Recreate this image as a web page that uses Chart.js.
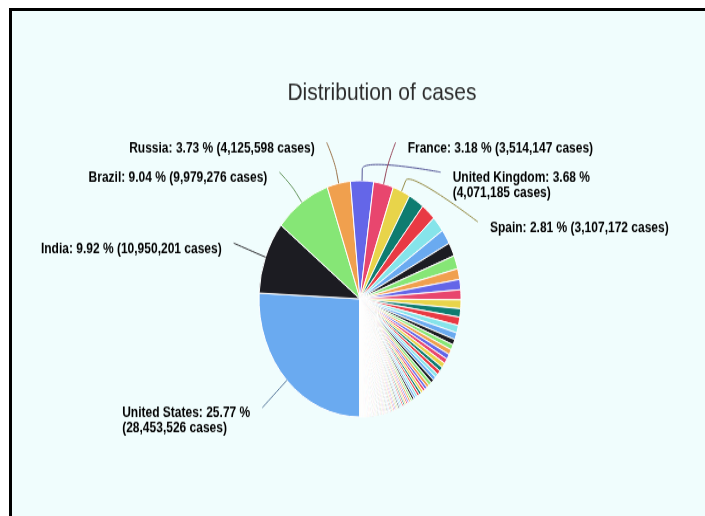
<!DOCTYPE html>
<html>
<head>
<meta charset="utf-8">
<title>Distribution of cases</title>
<script src="https://cdn.jsdelivr.net/npm/chart.js@4.4.1/dist/chart.umd.min.js"></script>
<style>
    html, body { margin: 0; padding: 0; background: #fff; }
    body { width: 705px; height: 516px; overflow: hidden; position: relative; }
    .frame {
        position: absolute; left: 9px; top: 8px;
        width: 693px; height: 505px;
        border-top: 3px solid #000; border-left: 3px solid #000;
        background: #f0fdfd;
        overflow: hidden;
    }
    /* the reference screenshot is stretched vertically */
    .stretch {
        position: absolute; left: 0; top: 0;
        width: 693px; height: 432px;
        transform: scaleY(1.17); transform-origin: 0 0;
    }
</style>
</head>
<body>
<div class="frame">
    <div class="stretch"><canvas id="casesChart"></canvas></div>
</div>
<script>
// Countries, largest first
const countries = [
    'United States', 'India', 'Brazil', 'Russia', 'United Kingdom', 'France', 'Spain',
    'Italy', 'Turkey', 'Germany', 'Colombia', 'Argentina', 'Mexico', 'Poland', 'Iran',
    'South Africa', 'Ukraine', 'Peru', 'Indonesia', 'Czechia', 'Netherlands', 'Canada',
    'Chile', 'Portugal', 'Romania', 'Belgium', 'Israel', 'Iraq', 'Sweden', 'Pakistan',
    'Philippines', 'Switzerland', 'Bangladesh', 'Morocco', 'Austria', 'Serbia', 'Japan',
    'Hungary', 'Saudi Arabia', 'Jordan', 'United Arab Emirates', 'Lebanon', 'Panama',
    'Slovakia', 'Malaysia', 'Belarus', 'Nepal', 'Ecuador', 'Georgia', 'Kazakhstan',
    'Croatia', 'Bolivia', 'Dominican Republic', 'Azerbaijan', 'Bulgaria', 'Tunisia',
    'Ireland', 'Denmark', 'Costa Rica', 'Lithuania', 'Palestine', 'Kuwait', 'Slovenia',
    'Greece', 'Egypt', 'Moldova', 'Armenia', 'Guatemala', 'Honduras', 'Qatar', 'Ethiopia',
    'Paraguay', 'Nigeria', 'Myanmar', 'Oman', 'Venezuela', 'Libya', 'Bosnia and Herzegovina',
    'Algeria', 'Bahrain', 'Kenya', 'North Macedonia', 'Albania', 'China', 'South Korea',
    'Kyrgyzstan', 'Latvia', 'Uzbekistan', 'Ghana', 'Sri Lanka', 'Zambia', 'Montenegro',
    'Norway', 'Singapore', 'El Salvador', 'Afghanistan', 'Mozambique', 'Luxembourg',
    'Finland', 'Estonia', 'Uruguay', 'Uganda', 'Cuba', 'Namibia', 'Zimbabwe', 'Cyprus',
    'Cameroon', 'Senegal', "Côte d'Ivoire", 'Malawi', 'Australia', 'Sudan', 'Botswana',
    'DR Congo', 'Malta', 'Angola', 'Madagascar'
];

// Confirmed cases per country
const cases = [
    28453526, 10950201, 9979276, 4125598, 4071185, 3514147, 3107172,
    2765000, 2610000, 2380000, 2215000, 2046000, 2030000, 1620000, 1560000,
    1500000, 1330000, 1270000, 1260000, 1130000, 1050000, 840000,
    800000, 795000, 775000, 750000, 745000, 660000, 620000, 575000,
    560000, 550000, 542000, 480000, 440000, 430000, 420000,
    400000, 375000, 370000, 360000, 350000, 340000,
    320000, 280000, 280000, 273000, 270000, 265000, 260000,
    240000, 240000, 235000, 232000, 230000, 225000,
    210000, 205000, 202000, 192000, 180000, 180000, 180000,
    180000, 178000, 170000, 170000, 170000, 160000, 155000, 150000,
    150000, 150000, 141000, 140000, 135000, 130000, 130000,
    111000, 110000, 104000, 100000, 97000, 90000, 86000,
    86000, 80000, 79000, 78000, 77000, 74000, 70000,
    66000, 60000, 58000, 55000, 55000, 53000,
    53000, 50000, 50000, 40000, 40000, 38000, 35000, 33000,
    32000, 32000, 31000, 31000, 29000, 28000, 27000,
    25000, 20000, 20000, 19000
];

// Slice colours, repeated in order
const palette = ['#6aaaf0', '#1c1c22', '#86e676', '#f0a04e', '#6466e8',
                 '#e8466e', '#e8d44a', '#0e7c70', '#e83a44', '#86e4ea'];

const titleText = 'Distribution of cases';
const labelMinPercent = 2.75;
const labelMaxWidth = 220;

const total = cases.reduce((a, b) => a + b, 0);
const percentOf = v => (Math.floor(v / total * 10000) / 100).toFixed(2);

function darken(hex) {
    const n = parseInt(hex.slice(1), 16);
    const mix = c => Math.round(c * 0.5 + 0x44 * 0.5);
    return `rgb(${mix(n >> 16)}, ${mix((n >> 8) & 255)}, ${mix(n & 255)})`;
}

// Highcharts-like data labels with connectors
const pieLabels = {
    id: 'pieLabels',
    afterDraw(chart) {
        const ctx = chart.ctx;
        const arcs = chart.getDatasetMeta(0).data;
        const distance = 34, lineH = 13, pad = 12.5, gap = 12, hook = 9.25;
        ctx.save();

        // title
        ctx.font = '21px "Liberation Sans", Arial, sans-serif';
        ctx.fillStyle = '#2b2b2b';
        ctx.textAlign = 'center';
        ctx.textBaseline = 'middle';
        ctx.fillText(titleText, 370, 70);

        ctx.font = 'bold 12px "Liberation Sans", Arial, sans-serif';
        const items = [];
        cases.forEach((v, i) => {
            if (v / total * 100 < labelMinPercent) return;
            const a = arcs[i];
            const mid = (a.startAngle + a.endAngle) / 2;
            const R = a.outerRadius + distance;
            const first = countries[i] + ': ' + percentOf(v) + ' %';
            const second = '(' + v.toLocaleString('en-US') + ' cases)';
            const full = first + ' ' + second;
            const lines = ctx.measureText(full).width > labelMaxWidth ? [first, second] : [full];
            const size = lines.length * lineH + pad + (lines.length - 1) * 4;
            const natural = a.y + R * Math.sin(mid);
            items.push({ i, a, mid, R, lines, size,
                         right: Math.cos(mid) >= 0,
                         target: natural - hook + size / 2 });
        });

        // spread labels on each side so they do not overlap
        const top = arcs[0].y - arcs[0].outerRadius - distance - 8;
        [true, false].forEach(side => {
            let boxes = items.filter(it => it.right === side)
                .sort((p, q) => p.target - q.target)
                .map(it => ({ items: [it], size: it.size, targets: [it.target] }));
            let overlapping = true;
            while (overlapping) {
                boxes.forEach(b => {
                    const t = (Math.min(...b.targets) + Math.max(...b.targets)) / 2;
                    b.pos = Math.max(top, t - b.size / 2);
                });
                overlapping = false;
                for (let k = boxes.length - 1; k > 0; k--) {
                    const p = boxes[k - 1], q = boxes[k];
                    if (p.pos + p.size > q.pos) {
                        p.size += q.size;
                        p.targets = p.targets.concat(q.targets);
                        p.items = p.items.concat(q.items);
                        boxes.splice(k, 1);
                        overlapping = true;
                    }
                }
            }
            boxes.forEach(b => {
                let y = b.pos;
                b.items.forEach(it => { it.top = y; y += it.size; });
            });
        });

        items.forEach(it => {
            const { a, mid, R, right, lines } = it;
            const cos = Math.cos(mid), sin = Math.sin(mid);
            const ly = it.top + hook;
            const edge = { x: a.x + a.outerRadius * cos, y: a.y + a.outerRadius * sin };
            const brk = { x: a.x + (a.outerRadius + 10) * cos, y: a.y + (a.outerRadius + 10) * sin };
            let lx = a.x + (right ? 1 : -1) * Math.sqrt(Math.max(R * R - (ly - a.y) ** 2, 0));
            lx = right ? Math.max(lx, edge.x + 12) : Math.min(lx, edge.x - 12);

            ctx.beginPath();
            ctx.moveTo(lx, ly);
            ctx.bezierCurveTo(lx, ly, 2 * brk.x - edge.x, 2 * brk.y - edge.y, brk.x, brk.y);
            ctx.lineTo(edge.x, edge.y);
            ctx.strokeStyle = darken(palette[it.i % palette.length]);
            ctx.lineWidth = 1;
            ctx.stroke();

            const w = Math.max(...lines.map(t => ctx.measureText(t).width));
            const x0 = right ? lx + gap : lx - gap - w;
            ctx.fillStyle = '#000000';
            ctx.textAlign = 'left';
            lines.forEach((t, k) => {
                ctx.fillText(t, x0, it.top + pad / 2 + lineH / 2 + 1.5 + k * lineH);
            });
        });
        ctx.restore();
    }
};

const casesCtx = document.getElementById('casesChart').getContext('2d');
const casesChart = new Chart(casesCtx, {
    type: 'pie',
    data: {
        labels: countries,
        datasets: [{
            data: cases,
            backgroundColor: cases.map((v, i) => palette[i % palette.length]),
            borderColor: '#ffffff',
            borderWidth: 1
        }]
    },
    options: {
        responsive: true,
        maintainAspectRatio: false,
        animation: false,
        rotation: 180,
        radius: 101,
        layout: {
            padding: { left: 20, right: 17, top: 120, bottom: 60 }
        },
        plugins: {
            legend: { display: false },
            tooltip: { enabled: false }
        }
    },
    plugins: [pieLabels]
});
</script>
</body>
</html>
